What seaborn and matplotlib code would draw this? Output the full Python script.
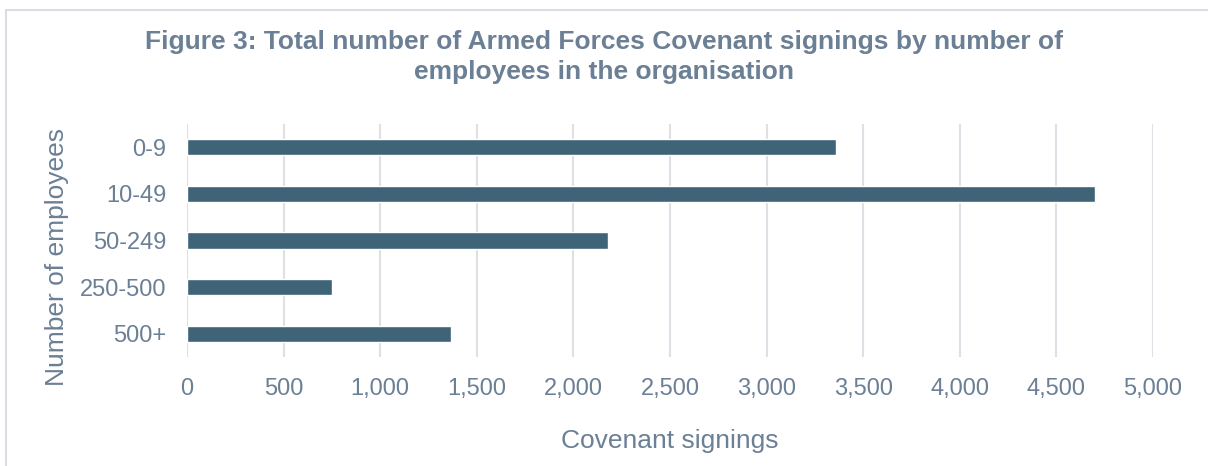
import matplotlib
matplotlib.use('Agg')
import matplotlib.pyplot as plt
import seaborn as sns
import pandas as pd
from matplotlib.patches import Rectangle
from matplotlib.ticker import FuncFormatter

# values
categories = ['0-9', '10-49', '50-249', '250-500', '500+']
signings = [3360, 4700, 2180, 750, 1365]
x_ticks = [0, 500, 1000, 1500, 2000, 2500, 3000, 3500, 4000, 4500, 5000]

df = pd.DataFrame({'band': categories, 'signings': signings})

text_col = '#6b7f95'
bar_col = '#3f6477'
grid_col = '#dde1e6'

sns.set_style('white')
plt.rcParams['font.family'] = ['Liberation Sans', 'DejaVu Sans']

fig = plt.figure(figsize=(12.08, 4.66), dpi=100)
ax = fig.add_axes([187 / 1208, 1 - 357 / 466, 966 / 1208, 233 / 466])

sns.barplot(data=df, x='signings', y='band', order=categories, color=bar_col,
            width=0.35, saturation=1, ax=ax, zorder=3)

ax.set_xlim(0, 5000)
ax.set_xticks(x_ticks)
ax.xaxis.set_major_formatter(FuncFormatter(lambda v, p: f'{int(v):,}'))
ax.grid(axis='x', color=grid_col, lw=1.5, zorder=0)
ax.set_axisbelow(True)
for s in ax.spines.values():
    s.set_visible(False)

ax.tick_params(axis='x', length=0, pad=15, labelsize=17, labelcolor=text_col)
ax.tick_params(axis='y', length=0, pad=15, labelsize=17, labelcolor=text_col)

ax.set_xlabel('Covenant signings', fontsize=19, color=text_col, va='center')
ax.xaxis.set_label_coords(0.5, (357 - 441) / 233)
ax.set_ylabel('Number of employees', fontsize=19, color=text_col, va='center')
ax.yaxis.set_label_coords((57 - 187) / 966, (357 - 257) / 233)

fig.text(604 / 1208, 1 - 57 / 466, 'Figure 3: Total number of Armed Forces Covenant signings by number of\nemployees in the organisation',
         ha='center', va='center', fontsize=19, fontweight='bold', color=text_col,
         linespacing=1.3)

# light frame around the chart area
fig.patches.append(Rectangle((6 / 1208, -0.02), 1.2, 1 - 10 / 466 + 0.02, transform=fig.transFigure,
                             fill=False, edgecolor='#d9dde3', lw=1.5))

fig.savefig('out.png', dpi=100)
